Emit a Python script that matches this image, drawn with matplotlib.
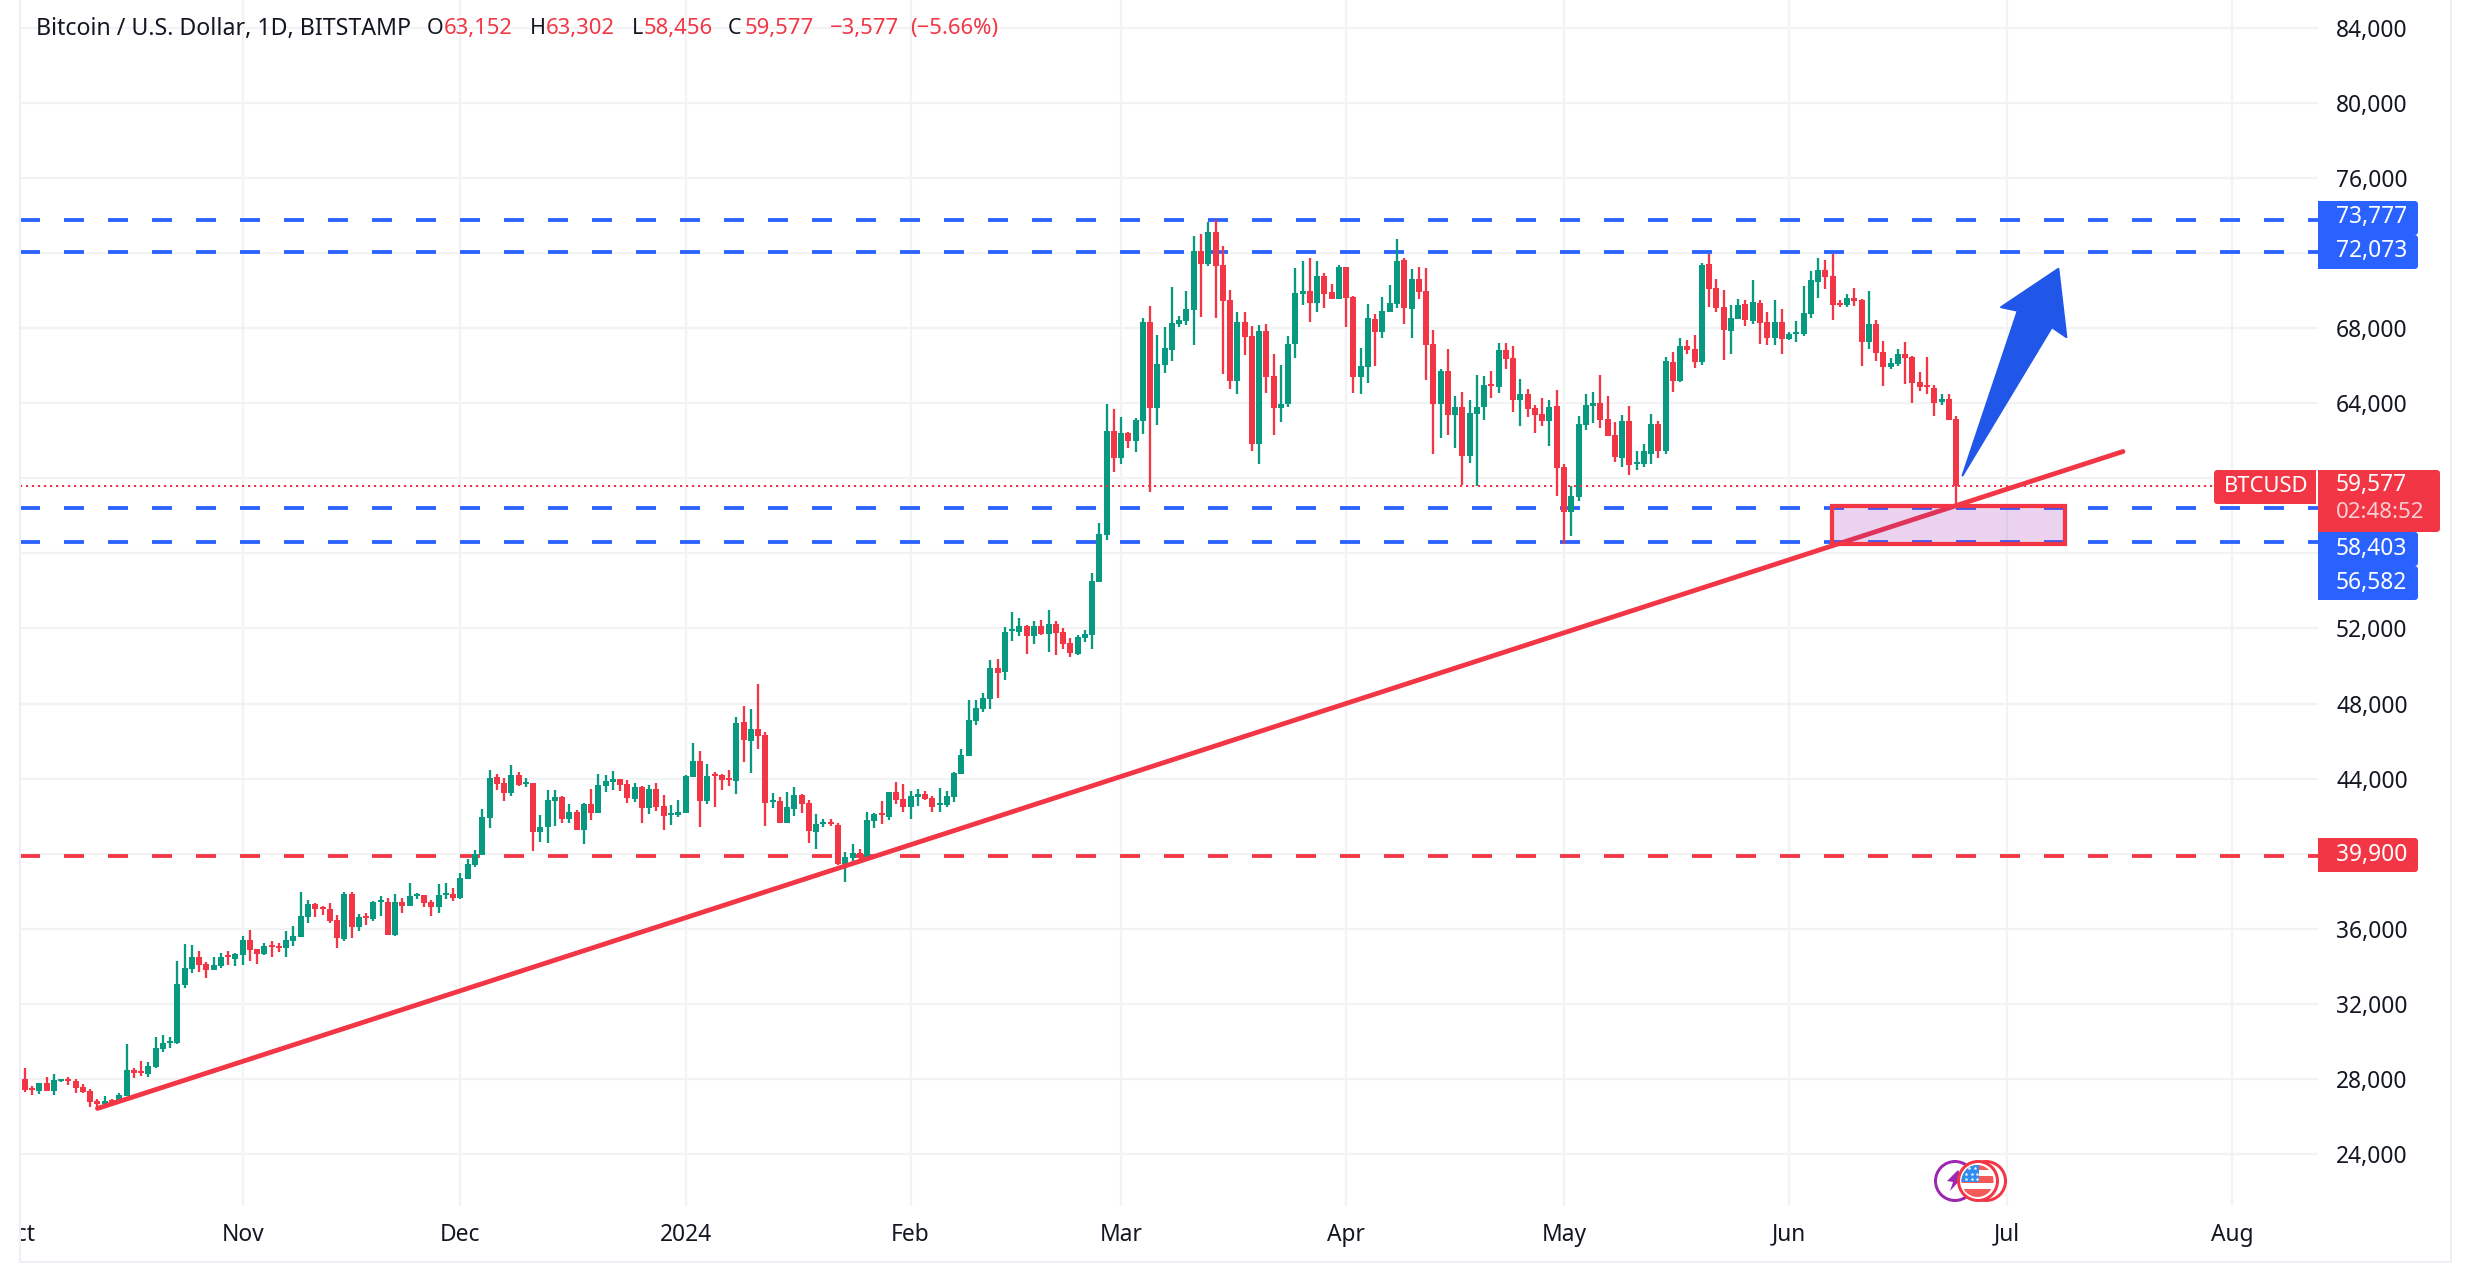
import numpy as np
import pandas as pd
import matplotlib
matplotlib.use("Agg")
import matplotlib.pyplot as plt
from matplotlib.patches import Rectangle, Polygon, Circle, FancyBboxPatch

plt.rcParams['font.family'] = ['Noto Sans', 'DejaVu Sans']
plt.rcParams['lines.scale_dashes'] = False

opens = [
26870,27982,27503,27343,27769,27343,27876,27982,27876,27556,
27343,26811,26651,26864,26757,27077,28462,28408,28249,28621,
29580,29934,29899,32988,33840,34479,34106,33786,33999,34585,
34372,34585,35384,34905,34639,35118,35065,34958,35331,35544,
36609,37301,37141,37035,36449,35437,37834,36076,36662,36502,
37425,37407,35650,37407,37195,37763,37780,37407,37141,37798,
37834,37621,38632,39378,39910,41881,44064,43744,43212,44170,
43726,43744,41135,41401,42786,42999,41827,42200,41242,42626,
42147,43585,43797,43957,43691,42892,43531,42413,43425,42519,
42040,42040,42147,44064,44916,42786,44224,44170,44010,43851,
46993,45981,46620,46300,42733,42786,41614,42360,43105,42679,
41135,41597,41668,41508,39431,39750,40017,39804,41721,42147,
41934,43265,42892,42466,42999,43159,42946,42590,42573,42999,
44224,45182,47046,47685,48217,49868,49666,51867,51831,52116,
51583,52116,51690,52222,51796,51210,50625,51476,51636,54459,
56961,62499,61062,62393,61967,63032,68304,63724,66014,66813,
68197,68357,68943,72084,71392,73096,71339,69475,65162,68304,
67558,61807,67824,65428,63724,63937,67132,69795,69954,69315,
70753,69901,69528,71232,69635,65375,65907,68463,67771,68836,
69262,71605,68996,70593,69954,67132,63937,65694,63351,63777,
61168,63405,63777,65002,64842,66813,66387,64150,64470,63724,
63405,63032,63830,60582,58186,58985,62819,63830,63990,63138,
62286,61062,63032,60742,60742,61275,62872,61434,66174,65162,
67026,66866,66174,71392,70114,69102,67824,68463,69262,68357,
69315,68304,67452,68304,67398,67665,67665,68730,70434,71073,
70753,69315,69209,69582,69475,67239,68197,66706,65907,66067,
66600,66440,65108,64949,64789,64043,64203,63152]
highs = [
28000,28568,27609,27769,28089,28248,27982,28089,27982,27716,
27450,26917,27077,26917,27237,29846,28568,28941,28888,30219,
30325,30219,34266,35171,35118,34798,34213,34479,34692,34798,
34692,35597,35916,34905,35224,35331,35224,35863,36130,37940,
37514,37354,37195,37354,36715,37940,37940,36769,36822,37461,
37727,37621,37834,37621,38419,37887,37780,37514,38366,38419,
38153,38952,39697,40177,42360,44437,44224,44010,44703,44330,
44010,43744,42040,43372,43372,43052,42626,42306,42679,43425,
44224,44170,44383,43957,43904,43744,43584,43638,43744,43105,
42573,42839,44170,45874,45448,44756,44330,44224,44436,47259,
47845,47685,49016,46460,43212,42999,43265,43531,43158,42839,
42093,41827,41827,41614,40070,40496,40230,42200,42147,42786,
43265,43797,43691,43318,43425,43318,43052,43478,43318,44330,
45555,48164,48164,48537,50294,50347,52062,52861,52541,52169,
52382,52435,52968,52382,52009,51476,51636,51903,54938,57600,
63937,63671,63245,62446,63192,68517,69155,67611,68037,70167,
68623,69954,72883,72990,73629,73735,72351,70008,68836,68836,
68091,68144,68197,66600,66014,67558,71179,71552,71712,71552,
70913,70327,71339,71232,69688,66919,69262,68730,69635,70274,
72723,71712,71126,71232,71179,67878,65801,66866,64363,64576,
64150,65481,65428,65694,67185,67185,67026,65268,64736,63884,
64257,64150,64683,60742,59571,63298,64470,64576,65481,64363,
62979,63351,63830,61434,61807,63405,63032,66440,66706,67452,
67345,67611,71445,71925,70593,70008,69209,69528,69475,70540,
69475,68836,69475,68996,67771,68357,70221,71019,71712,71605,
71925,69475,69795,70114,69528,69954,68410,67292,66387,66866,
67239,66493,65641,66440,64949,64470,64470,63302]
lows = [
26850,27290,27130,27184,27343,27130,27822,27663,27237,27237,
26491,26438,26544,26651,26757,27077,28036,28142,28089,28568,
29420,29633,29846,32828,33627,33680,33360,33786,33893,34053,
33999,34053,34266,34106,34585,34479,34745,34479,35065,35544,
36289,36609,36715,36289,34958,35331,35491,35863,36183,36396,
36662,35650,35597,36822,37195,37567,37141,36662,36822,37567,
37461,37567,38632,39271,39910,41348,43372,42786,43052,43584,
43531,40123,40602,40549,41454,41614,41614,41242,40496,41774,
42147,43265,43372,43318,42679,42733,41614,42093,42253,41241,
41508,41934,42147,44064,41401,42626,42466,43372,43584,43159,
44862,44277,45555,41454,42413,41614,41614,41987,42147,40549,
40230,41401,41454,39378,38473,39431,39644,39750,41348,41561,
41774,42626,42200,41827,42520,42839,42200,42200,42466,42733,
44224,45182,46833,47525,47685,48270,49240,51317,51583,50625,
51157,51636,50731,50571,50891,50465,50571,51264,50891,54459,
56695,60316,60742,61594,61381,62340,59251,62819,65588,66227,
68037,68144,67079,68570,71286,68517,65535,64736,64470,66546,
61434,60742,64523,62286,62979,63777,66387,69209,68304,68836,
69049,69528,69528,68037,64523,64470,65055,65960,67452,68836,
69049,68197,67452,69528,65215,61275,62126,62286,61594,59624,
60795,59571,63085,64257,64523,65801,63511,62766,63245,62393,
62766,61701,59038,56482,56908,58772,62553,62925,62659,62233,
60849,60582,60156,60422,60582,60742,61062,61275,64576,65109,
66600,65854,66014,69102,68836,66280,66600,68463,68091,68197,
67132,67079,67079,66600,67345,67239,67558,68517,69582,70061,
68410,69102,69102,69155,65960,66866,66227,64895,65801,65960,
65002,63990,64629,64470,63298,63884,63085,58456]
closes = [
27982,27396,27396,27769,27343,27929,27982,27876,27503,27290,
26757,26651,26811,26704,27130,28462,28302,28302,28675,29633,
29899,30005,33041,33893,34479,34053,33786,34053,34479,34497,
34639,35384,34852,34639,35065,35011,34976,35384,35597,36662,
37301,37035,37053,36396,35491,37834,36076,36609,36556,37407,
37514,35650,37407,37195,37727,37834,37354,37141,37780,37887,
37621,38686,39431,39964,41934,44010,43691,43212,44170,43638,
43797,41135,41401,42839,42999,41827,42200,41242,42626,42147,
43638,43851,43957,43638,42945,43531,42413,43425,42466,41987,
42147,42200,44117,44916,42786,44117,44117,43904,43904,46939,
46034,46620,46247,42679,42839,41614,42466,43105,42626,41188,
41561,41668,41597,39431,39804,40017,39750,41774,42093,42040,
43265,42839,42466,43052,43159,42892,42466,42679,43052,44277,
45235,47099,47738,48270,49868,49602,51796,51956,52116,51583,
52116,51690,52222,51743,51157,50678,51530,51690,54512,57015,
62499,61062,62393,61967,63085,68304,63724,66067,66919,68250,
68410,68996,72084,71392,73096,71286,69422,65162,68304,67505,
61807,67824,65375,63724,63937,67132,69848,69954,69315,70753,
69795,69528,71232,69582,65375,65960,68517,67771,68889,69315,
71552,69049,70593,69901,67079,63937,65694,63351,63777,61168,
63458,63777,64949,64913,66813,66333,64150,64470,63671,63351,
63032,63777,60529,58186,59038,62872,63884,63990,63085,62233,
61115,63032,60689,60849,61434,62872,61434,66227,65162,67026,
66813,66174,71339,70061,69049,67878,68517,69209,68410,69369,
68250,67452,68304,67398,67665,67771,68783,70540,71073,70700,
69209,69209,69582,69422,67239,68197,66653,65907,66120,66600,
66387,65055,64842,64860,63990,64203,63085,59577]

start_date = '2023-10-01'
month_starts = ['2023-10-01','2023-11-01','2023-12-01','2024-01-01','2024-02-01','2024-03-01',
                '2024-04-01','2024-05-01','2024-06-01','2024-07-01','2024-08-01']
month_labels = ['Oct','Nov','Dec','2024','Feb','Mar','Apr','May','Jun','Jul','Aug']
price_ticks = list(range(24000, 84001, 4000))
hidden_price_labels = [40000, 56000, 72000]  # sit behind the price tags
blue_levels = [73777, 72073, 58403, 56582]
red_level = 39900
last_price = 59577
trend_days = [11.0, 290.0]
trend_prices = [26434, 61426]
zone_days = [249.9, 282.0]
zone_prices = [56473, 58497]
arrow_days = [267.9, 275.5, 273.2, 281.1, 282.2, 280.2]
arrow_prices = [60148, 68919, 69111, 71156, 67514, 68046]

GREEN, RED, BLUE = '#089981', '#f23645', '#2962ff'
GRID = '#f2f3f5'
BORDER = '#eeeff4'
TXT = '#131722'
W, H = 2470, 1266
px = 0.72  # points per pixel at dpi 100
FS = 16.4

fig = plt.figure(figsize=(W/100, H/100), dpi=100, facecolor='white')
L, R, BOT = 17.6, 2318.0, 1206.0
ax = fig.add_axes([L/W, (H-BOT)/H, (R-L)/W, BOT/H])
for s in ax.spines.values():
    s.set_visible(False)
per_day = 7.26
ax.set_xlim(0, (R-L)/per_day)
ax.set_ylim(21240, 85472)

start = pd.Timestamp(start_date)
x = np.arange(len(opens))
o, h, l, c = map(np.array, (opens, highs, lows, closes))
cols = np.where(c >= o, GREEN, RED)
x_month = [(pd.Timestamp(d) - start).days for d in month_starts]

ax.set_axisbelow(True)
ax.set_xticks(x_month)
ax.set_xticklabels(month_labels, fontsize=FS, color=TXT)
ax.get_xticklabels()[3].set_fontweight('bold')
ax.set_yticks(price_ticks)
ax.set_yticklabels(['' if p in hidden_price_labels else f'{p:,}' for p in price_ticks], fontsize=FS, color=TXT)
ax.yaxis.tick_right()
ax.tick_params(axis='x', length=0, pad=12)
ax.tick_params(axis='y', length=0, pad=13)
ax.grid(True, color=GRID, lw=2.2*px)

x0 = (20-L)/per_day
x1 = (R-L)/per_day
on_off = (20*px, 24*px)
for lv in blue_levels:
    ax.plot([x0, x1], [lv, lv], color=BLUE, lw=3.8*px, dashes=on_off, dash_capstyle='butt', zorder=2)
ax.plot([x0, x1], [red_level, red_level], color=RED, lw=3.8*px, dashes=on_off, dash_capstyle='butt', zorder=2)

ax.vlines(x, l, h, colors=cols, lw=2.3*px, zorder=3)
ax.bar(x, np.abs(c-o), bottom=np.minimum(o, c), width=6/per_day, color=cols, lw=0, zorder=3.1)

x_tag = (2214-L)/per_day
ax.plot([x0, x_tag], [last_price, last_price], color=RED, lw=2*px, dashes=(2.2*px, 3.8*px),
        dash_capstyle='butt', zorder=4)
ax.plot(trend_days, trend_prices, color=RED, lw=4.8*px, solid_capstyle='round', zorder=5)
ax.add_patch(Rectangle((zone_days[0], zone_prices[0]), zone_days[1]-zone_days[0], zone_prices[1]-zone_prices[0],
                       facecolor='#9c27b0', alpha=0.2, lw=0, zorder=6))
ax.add_patch(Rectangle((zone_days[0], zone_prices[0]), zone_days[1]-zone_days[0], zone_prices[1]-zone_prices[0],
                       facecolor='none', edgecolor=RED, lw=4.2*px, zorder=6.5))
ax.add_patch(Polygon(np.column_stack([arrow_days, arrow_prices]), closed=True, facecolor='#2157e8',
                     edgecolor='#2157e8', lw=2*px, joinstyle='round', zorder=7))

# pixel overlay: borders, price tags, header, event icons
ov = fig.add_axes([0, 0, 1, 1], zorder=5)
ov.set_xlim(0, W); ov.set_ylim(H, 0); ov.axis('off'); ov.patch.set_alpha(0)
ov.add_patch(Rectangle((0, 0), 19, H, fc='white', ec='none'))
ov.add_patch(Rectangle((19, 0), 2, 1263, fc=BORDER, ec='none'))
ov.add_patch(Rectangle((19, 1261), 2432, 2, fc=BORDER, ec='none'))
ov.add_patch(Rectangle((2449.5, 0), 2, 1263, fc=BORDER, ec='none'))

def tag(x, y, w, h_, col, round_left=False):
    ov.add_patch(FancyBboxPatch((x, y), w, h_, boxstyle='round,pad=0,rounding_size=3.5', fc=col, ec='none'))
    if not round_left:
        ov.add_patch(Rectangle((x, y), 8, h_, fc=col, ec='none'))

for y, s in [(201, '73,777'), (235, '72,073'), (532, '58,403'), (566, '56,582')]:
    tag(2318, y, 100, 34, BLUE)
    ov.text(2336, y+16.5, s, color='white', fontsize=FS, va='center', ha='left')
tag(2318, 838, 100, 34, RED)
ov.text(2336, 854.5, '39,900', color='white', fontsize=FS, va='center', ha='left')
tag(2318, 470, 122, 62, RED)
ov.text(2336, 485.5, '59,577', color='white', fontsize=FS, va='center', ha='left')
ov.text(2336, 513, '02:48:52', color='#fbd0d5', fontsize=FS-0.4, va='center', ha='left')
tag(2214, 470, 102, 34, RED, round_left=True)
ov.add_patch(Rectangle((2310, 470), 6, 34, fc=RED, ec='none'))
ov.text(2224, 487, 'BTCUSD', color='white', fontsize=FS-0.6, va='center', ha='left')

header_y = 28.5
ov.text(36.5, header_y, 'Bitcoin / U.S. Dollar, 1D, BITSTAMP', color=TXT, fontsize=16.7, va='center')
for xt, s, col, fs in [(427, 'O', TXT, 15.5), (443.5, '63,152', RED, 15.9), (530, 'H', TXT, 15.5), (546, '63,302', RED, 15.9),
                   (632, 'L', TXT, 15.5), (644, '58,456', RED, 15.9), (728, 'C', TXT, 15.5), (745, '59,577', RED, 15.9),
                   (830, '\u22123,577', RED, 15.9), (910, '(\u22125.66%)', RED, 15.9)]:
    ov.text(xt, header_y, s, color=col, fontsize=fs, va='center')

# event icons
PURPLE = '#9c27b0'
ov.add_patch(Circle((1955, 1181), 19.5, fc='white', ec=PURPLE, lw=3*px, zorder=3))
ov.add_patch(Polygon([(1958, 1170), (1947, 1181), (1953, 1182), (1950, 1191), (1962, 1178)],
                     fc=PURPLE, ec='none', zorder=3.1))
ov.add_patch(Circle((1986, 1181), 19.5, fc='white', ec=RED, lw=3*px, zorder=3.2))
ov.add_patch(Circle((1978, 1181), 19.5, fc='white', ec=RED, lw=3*px, zorder=3.3))
clip = Circle((1977.5, 1181), 16, transform=ov.transData)
STR = '#f55a5a'
flag = [Rectangle((1961, 1165), 33, 4.5, fc=STR, ec='none', zorder=3.4),
        Rectangle((1961, 1176), 33, 7, fc=STR, ec='none', zorder=3.4),
        Rectangle((1961, 1189), 33, 9, fc=STR, ec='none', zorder=3.4),
        Rectangle((1961, 1165), 18, 17, fc='#2e8bf0', ec='none', zorder=3.5)]
for p in flag:
    ov.add_patch(p)
    p.set_clip_path(clip)
star_x = [1969, 1975, 1966, 1971.5, 1977, 1966, 1971.5, 1977]
star_y = [1168, 1168, 1173.5, 1173.5, 1173.5, 1179, 1179, 1179]
ov.scatter(star_x, star_y, s=9, c='white', marker='*', lw=0, zorder=3.6)

fig.savefig('out.png', dpi=100)
